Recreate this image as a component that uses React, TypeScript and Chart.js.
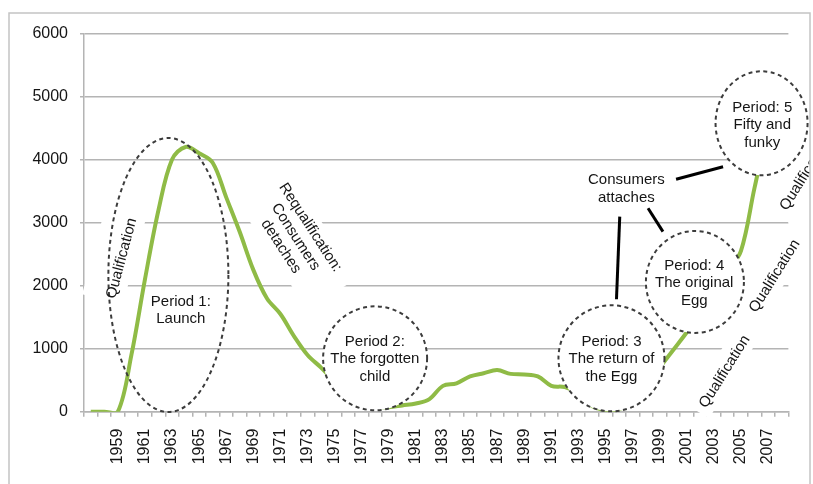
import React, { useEffect, useRef } from 'react';
import { Chart, registerables } from 'chart.js';

Chart.register(...registerables);

// ---------- data ----------
const categories = [
  '1957', '1958', '1959', '1960', '1961', '1962', '1963', '1964', '1965', '1966',
  '1967', '1968', '1969', '1970', '1971', '1972', '1973', '1974', '1975', '1976',
  '1977', '1978', '1979', '1980', '1981', '1982', '1983', '1984', '1985', '1986',
  '1987', '1988', '1989', '1990', '1991', '1992', '1993', '1994', '1995', '1996',
  '1997', '1998', '1999', '2000', '2001', '2002', '2003', '2004', '2005', '2006',
  '2007', '2008',
];

const shownYearLabels = [
  '1959', '1961', '1963', '1965', '1967', '1969', '1971', '1973', '1975', '1977',
  '1979', '1981', '1983', '1985', '1987', '1989', '1991', '1993', '1995', '1997',
  '1999', '2001', '2003', '2005', '2007',
];

const eggSales = [
  0, 0, 0, 900, 2100, 3200, 4000, 4200, 4100, 3950,
  3400, 2850, 2250, 1800, 1550, 1200, 900, 700, 480, 280,
  130, 70, 70, 100, 130, 200, 410, 450, 560, 610,
  660, 600, 590, 560, 410, 390, 290, 90, 30, 40,
  150, 400, 700, 980, 1260, 1580, 1900, 2220, 2550, 3550,
  4500, 5200,
];

const yAxisMin = 0;
const yAxisMax = 6000;
const yAxisStep = 1000;

// ---------- annotations (text) ----------
const periodTexts = [
  ['Period 1:', 'Launch'],
  ['Period 2:', 'The forgotten', 'child'],
  ['Period: 3', 'The return of', 'the Egg'],
  ['Period: 4', 'The original', 'Egg'],
  ['Period: 5', 'Fifty and', 'funky'],
];
const consumersText = ['Consumers', 'attaches'];
const requalText = ['Requalification:', 'Consumers', 'detaches'];
const qualText = ['Qualification'];

// ---------- annotation placement (data coords: year, value; sizes in px) ----------
const FONT = 'Arial, "Liberation Sans", Helvetica, sans-serif';

const ellipseLayout = [
  { year: 1962.73, value: 2169, rx: 60, ry: 137, fill: false },
  { year: 1977.99, value: 847, rx: 52, ry: 52, fill: true },
  { year: 1995.44, value: 847, rx: 53, ry: 53, fill: true },
  { year: 2001.6, value: 2058, rx: 49, ry: 51, fill: true },
  { year: 2006.52, value: 4576, rx: 46, ry: 52, fill: true },
];

const textLayout = [
  { lines: periodTexts[0], year: 1963.65, value: 1606 },
  { lines: periodTexts[1], year: 1977.97, value: 831 },
  { lines: periodTexts[2], year: 1995.44, value: 835 },
  { lines: periodTexts[3], year: 2001.55, value: 2037 },
  { lines: periodTexts[4], year: 2006.57, value: 4549 },
  { lines: consumersText, year: 1996.54, value: 3538 },
];

const rotatedLayout = [
  { lines: qualText, year: 1959.29, value: 2434, angle: -75, boxW: 90, boxH: 42, boxDV: -8 },
  { lines: requalText, year: 1972.12, value: 2772, angle: 57, boxW: 136, boxH: 60, boxDV: 0 },
  { lines: qualText, year: 2003.8, value: 635, angle: -58, boxW: 96, boxH: 26, boxDV: -1.6 },
  { lines: qualText, year: 2007.49, value: 2153, angle: -58, boxW: 96, boxH: 34, boxDV: -4.5 },
  { lines: qualText, year: 2009.75, value: 3771, angle: -58, boxW: 100, boxH: 30, boxDV: -3 },
];

const connectorLayout = [
  { y1: 2000.21, v1: 3687, y2: 2003.68, v2: 3887 },
  { y1: 1998.14, v1: 3227, y2: 1999.24, v2: 2856 },
  { y1: 1996.05, v1: 3094, y2: 1995.81, v2: 1783 },
];

const FRAME = { left: 9, top: 13, right: 810 };
const LINE_H = 17.5;
const GRID = '#b4b4b4';
const TEXT = '#151515';

const annotationPlugin = {
  id: 'eggAnnotations',
  afterDraw(chart: any) {
    const { ctx } = chart;
    const xs = chart.scales.x;
    const ys = chart.scales.y;
    const px = (yr: number) => xs.getPixelForValue(yr - 1957);
    const py = (v: number) => ys.getPixelForValue(v);

    const drawLines = (lines: string[]) => {
      const n = lines.length;
      lines.forEach((t, i) => {
        ctx.fillText(t, 0, (i - (n - 1) / 2) * LINE_H);
      });
    };

    ctx.save();
    ctx.beginPath();
    ctx.rect(0, 0, FRAME.right, chart.height);
    ctx.clip();

    // white boxes behind rotated labels
    rotatedLayout.forEach((l) => {
      ctx.save();
      ctx.translate(px(l.year), py(l.value));
      ctx.rotate((l.angle * Math.PI) / 180);
      ctx.fillStyle = '#ffffff';
      ctx.fillRect(-l.boxW / 2, -l.boxH / 2 + l.boxDV, l.boxW, l.boxH);
      ctx.restore();
    });

    // dashed ellipses
    ellipseLayout.forEach((e) => {
      ctx.save();
      ctx.beginPath();
      ctx.ellipse(px(e.year), py(e.value), e.rx, e.ry, 0, 0, Math.PI * 2);
      if (e.fill) {
        ctx.fillStyle = '#ffffff';
        ctx.fill();
      }
      ctx.setLineDash([4, 3.5]);
      ctx.lineWidth = 2;
      ctx.strokeStyle = '#3c3c3c';
      ctx.stroke();
      ctx.restore();
    });

    ctx.font = `15px ${FONT}`;
    ctx.fillStyle = TEXT;
    ctx.textAlign = 'center';
    ctx.textBaseline = 'middle';

    // straight text
    textLayout.forEach((t) => {
      ctx.save();
      ctx.translate(px(t.year), py(t.value));
      drawLines(t.lines);
      ctx.restore();
    });

    // rotated text
    rotatedLayout.forEach((l) => {
      ctx.save();
      ctx.translate(px(l.year), py(l.value));
      ctx.rotate((l.angle * Math.PI) / 180);
      drawLines(l.lines);
      ctx.restore();
    });

    // connectors
    ctx.strokeStyle = '#000000';
    ctx.lineWidth = 3;
    ctx.setLineDash([]);
    connectorLayout.forEach((c) => {
      ctx.beginPath();
      ctx.moveTo(px(c.y1), py(c.v1));
      ctx.lineTo(px(c.y2), py(c.v2));
      ctx.stroke();
    });
    ctx.restore();

    // outer frame
    ctx.save();
    ctx.strokeStyle = '#c4c4c4';
    ctx.lineWidth = 1.5;
    ctx.strokeRect(FRAME.left, FRAME.top, FRAME.right - FRAME.left, chart.height + 50);
    ctx.restore();
  },
};

export default function App() {
  const ref = useRef<HTMLCanvasElement>(null);

  useEffect(() => {
    if (!ref.current) return;
    const chart = new Chart(ref.current, {
      type: 'line',
      data: {
        labels: categories,
        datasets: [
          {
            data: eggSales,
            borderColor: '#8fbb46',
            borderWidth: 4,
            pointRadius: 0,
            pointHoverRadius: 0,
            tension: 0.35,
            fill: false,
            capBezierPoints: false,
            clip: { left: 10, top: 10, right: 10, bottom: 0 },
          } as any,
        ],
      },
      options: {
        responsive: false,
        animation: false,
        devicePixelRatio: 1,
        events: [],
        layout: { padding: { top: 33.5, right: 20, bottom: 0, left: 0 } },
        plugins: {
          legend: { display: false },
          tooltip: { enabled: false },
          title: { display: false },
        },
        scales: {
          x: {
            type: 'category',
            offset: true,
            afterFit: (s: any) => {
              s.height = 72.3;
            },
            grid: {
              offset: true,
              drawOnChartArea: false,
              drawTicks: true,
              tickLength: 5,
              color: GRID,
              lineWidth: 1.5,
            },
            border: { display: true, color: GRID, width: 1.5 },
            ticks: {
              autoSkip: false,
              maxRotation: 90,
              minRotation: 90,
              padding: 12,
              color: TEXT,
              font: { family: FONT, size: 16 },
              callback: (_v: any, i: number) =>
                shownYearLabels.includes(categories[i]) ? categories[i] : '',
            },
          },
          y: {
            min: yAxisMin,
            max: yAxisMax,
            afterFit: (s: any) => {
              s.width = 84;
            },
            grid: {
              color: GRID,
              lineWidth: 1.5,
              drawTicks: true,
              tickLength: 4,
            },
            border: { display: true, color: GRID, width: 1.5 },
            ticks: {
              stepSize: yAxisStep,
              padding: 12,
              color: TEXT,
              font: { family: FONT, size: 16 },
              callback: (v: any) => String(v),
            },
          },
        },
      },
      plugins: [annotationPlugin],
    });
    return () => chart.destroy();
  }, []);

  return (
    <div style={{ position: 'fixed', left: 0, top: 0, width: 813, height: 484, background: '#ffffff' }}>
      <canvas ref={ref} width={813} height={484} style={{ display: 'block', width: 813, height: 484 }} />
    </div>
  );
}
